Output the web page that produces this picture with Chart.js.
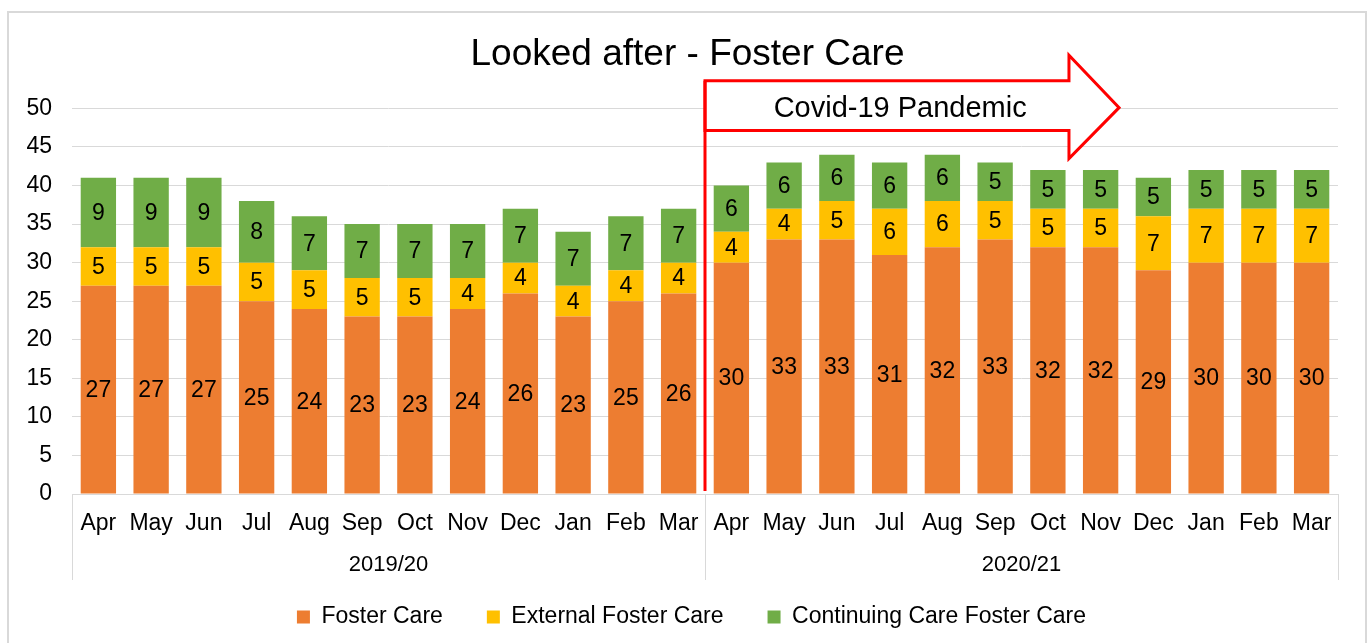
<!DOCTYPE html>
<html>
<head>
<meta charset="utf-8">
<title>Looked after - Foster Care</title>
<script src="https://cdn.jsdelivr.net/npm/chart.js@4"></script>
<style>
  html, body { margin: 0; padding: 0; background: #fff; }
  #wrap { width: 1368px; height: 643px; position: relative; }
</style>
</head>
<body>
<div id="wrap"><canvas id="fosterChart" width="1368" height="643"></canvas></div>
<script>
const months = ['Apr', 'May', 'Jun', 'Jul', 'Aug', 'Sep', 'Oct', 'Nov', 'Dec', 'Jan', 'Feb', 'Mar',
                'Apr', 'May', 'Jun', 'Jul', 'Aug', 'Sep', 'Oct', 'Nov', 'Dec', 'Jan', 'Feb', 'Mar'];
const years = ['2019/20', '2020/21'];
const monthsPerYear = 12;

const fosterCare = [27, 27, 27, 25, 24, 23, 23, 24, 26, 23, 25, 26,
                    30, 33, 33, 31, 32, 33, 32, 32, 29, 30, 30, 30];
const externalFosterCare = [5, 5, 5, 5, 5, 5, 5, 4, 4, 4, 4, 4,
                            4, 4, 5, 6, 6, 5, 5, 5, 7, 7, 7, 7];
const continuingCare = [9, 9, 9, 8, 7, 7, 7, 7, 7, 7, 7, 7,
                        6, 6, 6, 6, 6, 5, 5, 5, 5, 5, 5, 5];

const FONT = "'Liberation Sans', Arial, sans-serif";
const GRID = '#d9d9d9';
const LEGEND_PAD = 44;

// covid arrow, in axis units (category index / y value)
const covid = {
    text: 'Covid-19 Pandemic',
    start: 11.5, headBase: 18.4, tip: 19.35, textX: 15.2,
    bodyTop: 53.6, bodyBottom: 47.15, headTop: 56.9, headBottom: 43.5, mid: 50.1
};

const frame = {
    id: 'frame',
    beforeDraw(chart) {
        const ctx = chart.ctx;
        ctx.save();
        ctx.strokeStyle = GRID;
        ctx.lineWidth = 2;
        ctx.strokeRect(8, 12, 1358, 700);
        ctx.restore();
    }
};

// excel centres title/legend on the whole frame, not the padded box
const nudge = {
    id: 'nudge',
    afterLayout(chart) {
        const shift = (box, dx) => { if (box) { box.left += dx; box.right += dx; } };
        shift(chart.titleBlock, 15);
        shift(chart.legend, 19);
    }
};

// year row and separators under the month labels
const yearAxis = {
    id: 'yearAxis',
    afterDraw(chart) {
        const x = chart.scales.x;
        const ctx = chart.ctx;
        const bottom = chart.chartArea.bottom;
        const half = (x.getPixelForValue(1) - x.getPixelForValue(0)) / 2;
        ctx.save();
        ctx.strokeStyle = GRID;
        ctx.lineWidth = 1;
        for (let i = 0; i <= years.length; i++) {
            const idx = i * monthsPerYear;
            const px = Math.round(idx < months.length ? x.getPixelForValue(idx) - half : x.getPixelForValue(months.length - 1) + half) + 0.5;
            ctx.beginPath();
            ctx.moveTo(px, bottom);
            ctx.lineTo(px, bottom + 86);
            ctx.stroke();
        }
        ctx.fillStyle = '#000';
        ctx.font = '22px ' + FONT;
        ctx.textAlign = 'center';
        ctx.textBaseline = 'middle';
        years.forEach((y, i) => {
            const a = x.getPixelForValue(i * monthsPerYear) - half;
            const b = x.getPixelForValue(i * monthsPerYear + monthsPerYear - 1) + half;
            ctx.fillText(y, (a + b) / 2, bottom + 71);
        });
        ctx.restore();
    }
};

const segmentLabels = {
    id: 'segmentLabels',
    afterDatasetsDraw(chart) {
        const ctx = chart.ctx;
        ctx.save();
        ctx.fillStyle = '#000';
        ctx.font = '23px ' + FONT;
        ctx.textAlign = 'center';
        ctx.textBaseline = 'middle';
        chart.data.datasets.forEach((ds, i) => {
            chart.getDatasetMeta(i).data.forEach((bar, j) => {
                const p = bar.getProps(['x', 'y', 'base'], true);
                ctx.fillText(ds.data[j], p.x, (p.y + p.base) / 2 + 1);
            });
        });
        ctx.restore();
    }
};

const covidArrow = {
    id: 'covidArrow',
    afterDatasetsDraw(chart) {
        const x = chart.scales.x, y = chart.scales.y;
        const ctx = chart.ctx;
        const px = v => {
            const i = Math.floor(v), f = v - i;
            const a = x.getPixelForValue(i), b = x.getPixelForValue(i + 1);
            return a + (b - a) * f;
        };
        const x0 = px(covid.start), xh = px(covid.headBase), xt = px(covid.tip);
        ctx.save();
        ctx.strokeStyle = '#ff0000';
        ctx.lineWidth = 3;
        ctx.lineJoin = 'miter';
        ctx.beginPath();
        ctx.moveTo(x0, y.getPixelForValue(covid.bodyTop));
        ctx.lineTo(xh, y.getPixelForValue(covid.bodyTop));
        ctx.lineTo(xh, y.getPixelForValue(covid.headTop));
        ctx.lineTo(xt, y.getPixelForValue(covid.mid));
        ctx.lineTo(xh, y.getPixelForValue(covid.headBottom));
        ctx.lineTo(xh, y.getPixelForValue(covid.bodyBottom));
        ctx.lineTo(x0, y.getPixelForValue(covid.bodyBottom));
        ctx.closePath();
        ctx.fillStyle = '#fff';
        ctx.fill();
        ctx.stroke();
        ctx.beginPath();
        ctx.moveTo(x0, y.getPixelForValue(covid.bodyTop));
        ctx.lineTo(x0, chart.chartArea.bottom - 3);
        ctx.stroke();
        ctx.fillStyle = '#000';
        ctx.font = '29px ' + FONT;
        ctx.textAlign = 'center';
        ctx.textBaseline = 'middle';
        ctx.fillText(covid.text, px(covid.textX), y.getPixelForValue(covid.mid) + 1);
        ctx.restore();
    }
};

new Chart(document.getElementById('fosterChart'), {
    type: 'bar',
    data: {
        labels: months,
        datasets: [
            { label: 'Foster Care', data: fosterCare, backgroundColor: '#ed7d31' },
            { label: 'External Foster Care', data: externalFosterCare, backgroundColor: '#ffc000' },
            { label: 'Continuing Care Foster Care', data: continuingCare, backgroundColor: '#70ad47' }
        ]
    },
    options: {
        responsive: false,
        animation: false,
        datasets: { bar: { barPercentage: 0.67, categoryPercentage: 1 } },
        layout: { padding: { left: 7, right: 30, top: 0, bottom: 4.5 } },
        scales: {
            x: {
                stacked: true,
                grid: { display: false, drawTicks: false },
                border: { display: true, color: GRID, width: 1 },
                ticks: { color: '#000', font: { family: FONT, size: 23 }, padding: 16, autoSkip: false, maxRotation: 0 },
                afterFit: s => { s.height = 111.5 - LEGEND_PAD; }
            },
            y: {
                stacked: true,
                min: 0, max: 50,
                grid: { color: GRID, drawTicks: false },
                border: { display: false },
                ticks: { stepSize: 5, color: '#000', font: { family: FONT, size: 23 }, padding: 20 },
                afterFit: s => { s.width = 65; }
            }
        },
        plugins: {
            title: {
                display: true,
                text: 'Looked after - Foster Care',
                color: '#000',
                font: { family: FONT, size: 37, weight: 'normal' },
                padding: { top: 33, bottom: 31 }
            },
            legend: {
                position: 'bottom',
                labels: {
                    color: '#000',
                    font: { family: FONT, size: 23 },
                    boxWidth: 13, boxHeight: 13,
                    padding: LEGEND_PAD
                }
            },
            tooltip: { enabled: false }
        }
    },
    plugins: [frame, nudge, yearAxis, segmentLabels, covidArrow]
});
</script>
</body>
</html>
